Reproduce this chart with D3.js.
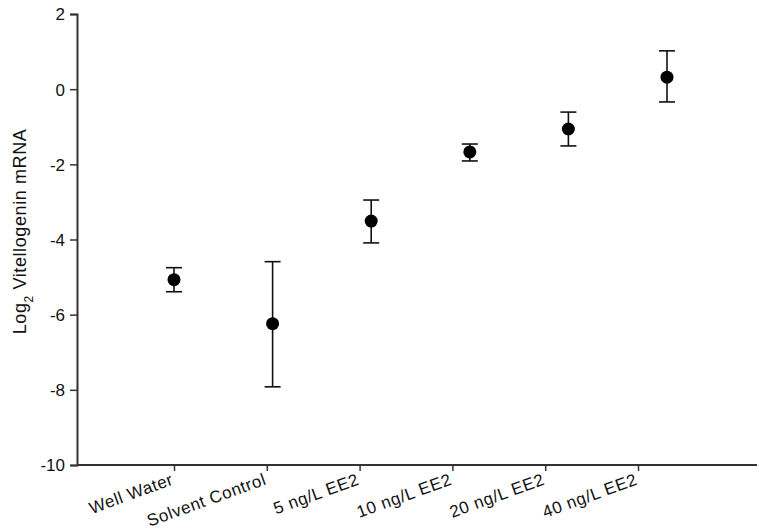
<!DOCTYPE html>
<html>
<head>
<meta charset="utf-8">
<script src="https://cdn.jsdelivr.net/npm/d3@7"></script>
<style>
  body { margin: 0; background: #fff; }
  text { font-family: "Liberation Sans", Arial, sans-serif; fill: #111; }
</style>
</head>
<body>
<div id="chart"></div>
<script>
// groups, means and error bar ends
var groups = ["Well Water", "Solvent Control", "5 ng/L EE2", "10 ng/L EE2", "20 ng/L EE2", "40 ng/L EE2"];
var means = [-5.07, -6.24, -3.51, -1.67, -1.06, 0.32];
var upper = [-4.75, -4.59, -2.95, -1.46, -0.61, 1.02];
var lower = [-5.39, -7.92, -4.09, -1.91, -1.51, -0.34];
var yTicks = [2, 0, -2, -4, -6, -8, -10];

var width = 759, height = 530;
var margin = {top: 14, right: 2, bottom: 65, left: 77};
var w = width - margin.left - margin.right,
    h = height - margin.top - margin.bottom;

var svg = d3.select("#chart").append("svg")
    .attr("width", width)
    .attr("height", height)
  .append("g")
    .attr("transform", "translate(" + margin.left + "," + margin.top + ")");

var data = [];
for (var i = 0; i < groups.length; ++i) {
    data.push({group: groups[i], mean: means[i], hi: upper[i], lo: lower[i]});
}

var y = d3.scaleLinear().domain([-10, 2]).range([h, 0]);

// points sit on a wider spacing than the category ticks in the original
var x = d3.scalePoint().domain(groups).range([97, 590]);
var xTick = d3.scalePoint().domain(groups).range([97, 561]);

// y axis
var yAxis = svg.append("g")
    .call(d3.axisLeft(y).tickValues(yTicks).tickSize(7).tickPadding(5));
yAxis.select(".domain").attr("stroke", "#333").attr("stroke-width", 2);
yAxis.selectAll(".tick line").attr("stroke", "#333").attr("stroke-width", 1.5);
yAxis.selectAll(".tick text").style("font-size", "17px").attr("fill", "#111")
    .attr("dy", "0.35em")
    .text(function(d) { return d < 0 ? "-" + Math.abs(d) : d; });

// x axis
var xAxis = svg.append("g")
    .attr("transform", "translate(0," + h + ")")
    .call(d3.axisBottom(xTick).tickSize(6).tickSizeOuter(0));
xAxis.select(".domain").remove();
xAxis.append("line")
    .attr("x1", 0).attr("x2", w)
    .attr("stroke", "#333").attr("stroke-width", 2);
xAxis.selectAll(".tick line").attr("stroke", "#333").attr("stroke-width", 1.5);
xAxis.selectAll(".tick text")
    .style("font-size", "17px").style("letter-spacing", "0.6px").attr("fill", "#111")
    .attr("text-anchor", "end")
    .attr("y", 0).attr("dy", 0)
    .attr("transform", "translate(0,19) rotate(-20)");

// y title
svg.append("text")
    .attr("transform", "translate(" + (26 - margin.left) + "," + (h / 2 - 8) + ") rotate(-90)")
    .attr("text-anchor", "middle")
    .style("font-size", "18px")
    .style("letter-spacing", "0.6px")
    .html('Log<tspan baseline-shift="sub" font-size="12px">2</tspan> Vitellogenin mRNA');

// error bars
var bars = svg.selectAll(".err").data(data).enter().append("g").attr("class", "err")
    .attr("stroke", "#111").attr("stroke-width", 1.6);
bars.append("line")
    .attr("x1", function(d) { return x(d.group); })
    .attr("x2", function(d) { return x(d.group); })
    .attr("y1", function(d) { return y(d.hi); })
    .attr("y2", function(d) { return y(d.lo); });
bars.append("line")
    .attr("x1", function(d) { return x(d.group) - 8; })
    .attr("x2", function(d) { return x(d.group) + 8; })
    .attr("y1", function(d) { return y(d.hi); })
    .attr("y2", function(d) { return y(d.hi); });
bars.append("line")
    .attr("x1", function(d) { return x(d.group) - 8; })
    .attr("x2", function(d) { return x(d.group) + 8; })
    .attr("y1", function(d) { return y(d.lo); })
    .attr("y2", function(d) { return y(d.lo); });

// means
svg.selectAll(".dot").data(data).enter().append("circle")
    .attr("class", "dot")
    .attr("cx", function(d) { return x(d.group); })
    .attr("cy", function(d) { return y(d.mean); })
    .attr("r", 6.5)
    .attr("fill", "#000");
</script>
</body>
</html>
